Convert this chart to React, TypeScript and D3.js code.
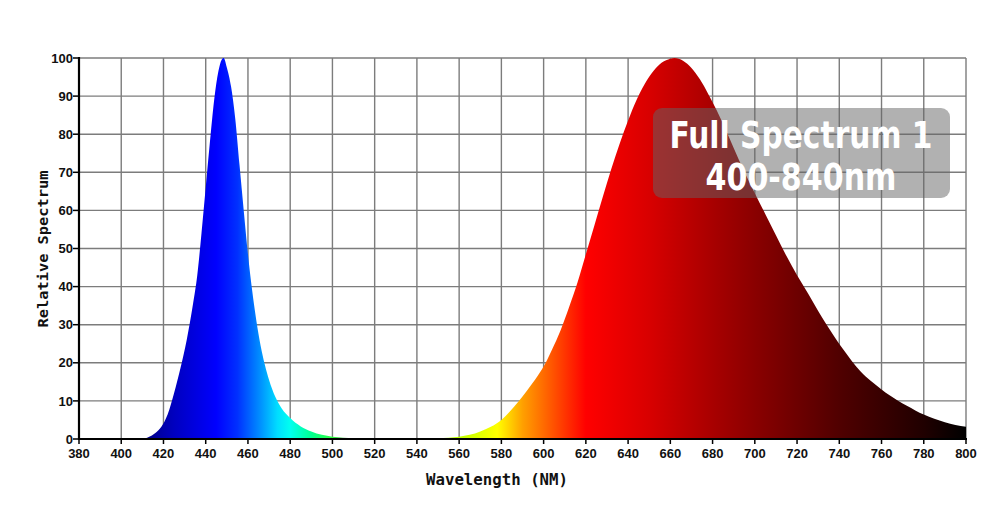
import React from "react";
import * as d3 from "d3";

const xTicks = [380, 400, 420, 440, 460, 480, 500, 520, 540, 560, 580, 600, 620, 640, 660, 680, 700, 720, 740, 760, 780, 800];
const yTicks = [0, 10, 20, 30, 40, 50, 60, 70, 80, 90, 100];

// Blue LED peak (wavelength nm, relative value)
const blueWl = [405, 410, 413, 416, 419, 422, 425, 428, 431, 434, 436, 438, 440, 442, 444, 446, 447.5, 448.5, 450, 452, 454, 456, 458, 460, 462, 464, 466, 468, 470, 473, 476, 480, 485, 490, 495, 500, 510, 520, 540];
const blueVal = [0, 0.05, 0.5, 1.5, 3.2, 6.5, 12, 18.5, 26, 35.5, 43, 54, 66, 78, 89, 96.5, 99.5, 100, 97.5, 92.5, 84, 72, 60, 48.5, 39, 31, 24.5, 19.5, 15.5, 11, 8, 5.5, 3.3, 2, 1.1, 0.6, 0.2, 0.05, 0];

// Red / full-spectrum phosphor peak
const redWl = [540, 550, 560, 565, 570, 575, 580, 584, 588, 592, 596, 600, 604, 608, 612, 616, 620, 624, 628, 632, 636, 640, 644, 648, 652, 656, 660, 662, 666, 670, 674, 678, 682, 686, 690, 695, 700, 705, 710, 715, 720, 724, 727, 730, 734, 738, 742, 746, 750, 755, 760, 764, 768, 772, 776, 780, 785, 790, 795, 800];
const redVal = [0, 0.2, 0.6, 1.1, 2, 3.2, 5, 7.2, 9.8, 12.6, 15.6, 19, 23.5, 28.5, 34.5, 41, 48.5, 56, 63.5, 70.8, 77.5, 83.6, 89, 93.3, 96.6, 98.8, 99.8, 100, 99.3, 97.4, 94.4, 90.5, 86.2, 81.4, 76.4, 70.2, 64.5, 59, 53.5, 48, 43, 39.3, 36.5, 33.6, 30, 26.6, 23.4, 20.4, 17.8, 15.2, 13, 11.4, 10, 8.7, 7.5, 6.4, 5.3, 4.4, 3.7, 3.2];

// spectrum colour stops
const stopWl = [405, 425, 445, 455, 465, 474, 480, 490, 500, 512, 530, 550, 570, 578, 590, 605, 620, 650, 680, 700, 740, 780, 800];
const stopColor = ["#00006e", "#0000c0", "#0000ff", "#0030ff", "#0088ff", "#00ddff", "#00fff0", "#00ff90", "#30ff40", "#205020", "#406000", "#a0ff00", "#e0ff00", "#ffff00", "#ffa000", "#ff5000", "#ff0000", "#d80000", "#a80000", "#8a0000", "#500000", "#200000", "#000000"];

const title1 = "Full Spectrum 1";
const title2 = "400-840nm";
const xTitle = "Wavelength (NM)";
const yTitle = "Relative Spectrum";

export default function App() {
  const W = 1000, H = 530;
  const x = d3.scaleLinear().domain([380, 800]).range([79, 966]);
  const y = d3.scaleLinear().domain([0, 100]).range([439, 58]);

  const area = d3
    .area<[number, number]>()
    .x((d) => x(d[0]))
    .y0(y(0))
    .y1((d) => y(d[1]))
    .curve(d3.curveMonotoneX);

  const blue = blueWl.map((w, i) => [w, blueVal[i]] as [number, number]);
  const red = redWl.map((w, i) => [w, redVal[i]] as [number, number]);

  const gridColor = "#7c7c7c";
  const tickFont = "'Liberation Sans', Arial, sans-serif";
  const monoFont = "'DejaVu Sans Mono', 'Liberation Mono', monospace";
  const titleFont = "'DejaVu Sans Condensed', 'DejaVu Sans', sans-serif";

  return (
    <svg width={W} height={H} style={{ position: "absolute", left: 0, top: 0, background: "#fff" }}>
      <defs>
        <linearGradient id="spec" gradientUnits="userSpaceOnUse" x1={x(380)} x2={x(800)} y1={0} y2={0}>
          {stopWl.map((w, i) => (
            <stop key={i} offset={(w - 380) / 420} stopColor={stopColor[i]} />
          ))}
        </linearGradient>
      </defs>
      {/* grid */}
      {xTicks.map((t) => (
        <line key={"gx" + t} x1={x(t)} x2={x(t)} y1={y(100)} y2={y(0)} stroke={gridColor} strokeWidth={1.4} />
      ))}
      {yTicks.map((t) => (
        <line key={"gy" + t} x1={x(380)} x2={x(800)} y1={y(t)} y2={y(t)} stroke={gridColor} strokeWidth={1.4} />
      ))}
      {/* areas */}
      <path d={area(blue) || ""} fill="url(#spec)" />
      <path d={area(red) || ""} fill="url(#spec)" />
      {/* axes */}
      <line x1={x(380)} x2={x(380)} y1={y(100) - 1} y2={y(0) + 1} stroke="#000" strokeWidth={2.2} />
      <line x1={x(380) - 1} x2={x(800) + 1} y1={y(0)} y2={y(0)} stroke="#000" strokeWidth={2.2} />
      {yTicks.map((t) => (
        <g key={"yt" + t}>
          <line x1={x(380) - 6} x2={x(380)} y1={y(t)} y2={y(t)} stroke="#000" strokeWidth={1.5} />
          <text x={x(380) - 6} y={y(t)} dy="0.36em" textAnchor="end" fontFamily={tickFont} fontWeight="bold" fontSize={13} fill="#111">
            {t}
          </text>
        </g>
      ))}
      {xTicks.map((t) => (
        <g key={"xt" + t}>
          <line x1={x(t)} x2={x(t)} y1={y(0)} y2={y(0) + 5} stroke="#000" strokeWidth={1.5} />
          <text x={x(t)} y={y(0) + 19} textAnchor="middle" fontFamily={tickFont} fontWeight="bold" fontSize={13} fill="#111">
            {t}
          </text>
        </g>
      ))}
      {/* axis titles */}
      <text x={497} y={485} textAnchor="middle" fontFamily={monoFont} fontWeight="bold" fontSize={15} fill="#111" textLength={142} lengthAdjust="spacingAndGlyphs">
        {xTitle}
      </text>
      <text transform="translate(48,249) rotate(-90)" textAnchor="middle" fontFamily={monoFont} fontWeight="bold" fontSize={14} fill="#111" textLength={157} lengthAdjust="spacingAndGlyphs">
        {yTitle}
      </text>
      {/* label box */}
      <rect x={653} y={108} width={297} height={90} rx={9} ry={9} fill="rgba(100,100,100,0.5)" />
      <text x={801} y={148} textAnchor="middle" fontFamily={titleFont} fontStretch="condensed" fontWeight="bold" fontSize={38} fill="#fff" textLength={263} lengthAdjust="spacingAndGlyphs">
        {title1}
      </text>
      <text x={801} y={190} textAnchor="middle" fontFamily={titleFont} fontStretch="condensed" fontWeight="bold" fontSize={38} fill="#fff" textLength={191} lengthAdjust="spacingAndGlyphs">
        {title2}
      </text>
    </svg>
  );
}
